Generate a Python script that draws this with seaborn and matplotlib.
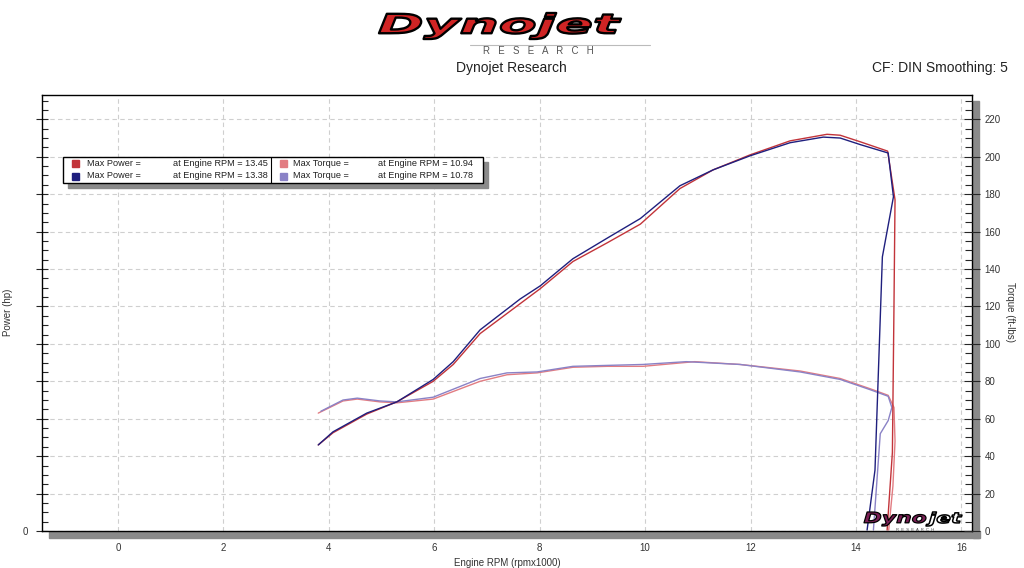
import matplotlib
matplotlib.use("Agg")
import matplotlib.pyplot as plt
from matplotlib.patches import Rectangle, PathPatch
from matplotlib.lines import Line2D
from matplotlib.textpath import TextPath
from matplotlib.font_manager import FontProperties
from matplotlib.transforms import Affine2D
from matplotlib.ticker import MultipleLocator
import seaborn as sns

# ---- data (rpm x1000) ----
# run 1 (red) power
rpm_p1 = [3.80, 4.08, 4.72, 5.29, 5.98, 6.36, 6.87, 7.63, 8.01, 8.63, 9.28, 9.91,
          10.66, 11.29, 11.99, 12.75, 13.45, 13.70, 14.08, 14.60, 14.74, 14.72, 14.69, 14.59]
hp_1 = [46, 52.5, 62.5, 69, 80, 89, 105.5, 121.5, 129.5, 144, 154, 164,
        183, 193, 201, 208.5, 212, 211.5, 208, 203, 177, 120, 42, 0.5]
# run 2 (blue) power
rpm_p2 = [3.80, 4.08, 4.72, 5.29, 5.98, 6.36, 6.87, 7.63, 8.01, 8.63, 9.28, 9.91,
          10.66, 11.29, 11.99, 12.75, 13.38, 13.70, 14.08, 14.61, 14.71, 14.50, 14.36, 14.21]
hp_2 = [46, 53, 63, 69, 81, 90.5, 107.5, 124, 131, 145.5, 156.5, 167,
        184.5, 193, 200.5, 207.5, 210.5, 210, 206.5, 202, 178.6, 146.5, 32.6, 0.5]
# run 1 torque
rpm_t1 = [3.80, 4.27, 4.54, 4.97, 5.29, 5.98, 6.87, 7.38, 7.95, 8.63, 9.28, 9.96,
          10.94, 11.80, 12.94, 13.70, 14.27, 14.61, 14.72, 14.74, 14.70, 14.62]
tq_1 = [63, 69.5, 70.5, 69, 68.5, 70.5, 80, 83.5, 84.5, 87.5, 88, 88,
        90.5, 89, 85.5, 81.5, 76, 72.5, 66, 48, 24, 0.5]
# run 2 torque
rpm_t2 = [3.85, 4.27, 4.54, 4.97, 5.29, 5.98, 6.87, 7.38, 7.95, 8.63, 9.28, 9.96,
          10.78, 11.80, 12.94, 13.70, 14.27, 14.61, 14.68, 14.61, 14.46, 14.33]
tq_2 = [64, 70, 71, 69.5, 69, 71.5, 81.5, 84.5, 85, 88, 88.5, 89,
        90.5, 89, 85, 81, 75.5, 72, 66, 59, 52, 0.5]

legend_names = ["Max Power =", "Max Power =", "Max Torque =", "Max Torque ="]
legend_rpm = [13.45, 13.38, 10.94, 10.78]
right_ticks = list(range(0, 221, 20))
x_ticks = list(range(0, 17, 2))

c_p1, c_p2, c_t1, c_t2 = "#c2343a", "#1f1f7e", "#e27c82", "#8a82c6"

sns.set_style("white")
plt.rcParams['font.family'] = ['Liberation Sans', 'DejaVu Sans']

W, H = 1024, 568
def px(x, y):
    return (x / W, 1 - y / H)

fig = plt.figure(figsize=(10.24, 5.68), dpi=100)
L, R, T, B = 42, 972, 95, 531
ax = fig.add_axes([L / W, 1 - B / H, (R - L) / W, (B - T) / H])

# gray drop shadows of the frame
fig.add_artist(Rectangle(px(49, 538), (980 - 49) / W, 7 / H, transform=fig.transFigure,
                         color="#8a8a8a", zorder=0))
fig.add_artist(Rectangle(px(973, 538), 6 / W, (538 - 101) / H, transform=fig.transFigure,
                         color="#8a8a8a", zorder=0))

for xs, ys, col in [(rpm_t1, tq_1, c_t1), (rpm_t2, tq_2, c_t2),
                    (rpm_p1, hp_1, c_p1), (rpm_p2, hp_2, c_p2)]:
    sns.lineplot(x=xs, y=ys, sort=False, estimator=None, color=col, lw=1.0, ax=ax)

ax.set_xlim(-1.44, 16.2)
ax.set_ylim(0, 233)
ax.set_xticks(x_ticks)
ax.set_xticklabels([str(t) for t in x_ticks], fontsize=7, color="#333333")
ax.xaxis.set_minor_locator(MultipleLocator(0.5))
ax.set_yticks(right_ticks)
ax.set_yticklabels(["0"] + [""] * (len(right_ticks) - 1), fontsize=7, color="#333333")
ax.yaxis.set_minor_locator(MultipleLocator(5))
ax.tick_params(axis="x", which="major", direction="inout", length=7, width=0.8, pad=5)
ax.tick_params(axis="x", which="minor", direction="in", length=5, width=0.8)
ax.tick_params(axis="y", which="major", direction="inout", length=8, width=0.8, pad=6)
ax.tick_params(axis="y", which="minor", direction="in", length=4, width=0.8)
ax.grid(True, which="major", color="#cfcfcf", ls=(0, (4, 3)), lw=0.8)
for s in ax.spines.values():
    s.set_color("black")
    s.set_linewidth(1.0)
ax.set_xlabel("Engine RPM (rpmx1000)", fontsize=7, color="#333333", labelpad=4)
ax.set_ylabel("")

ax2 = ax.twinx()
ax2.set_ylim(0, 233)
ax2.set_yticks(right_ticks)
ax2.set_yticklabels([str(t) for t in right_ticks], fontsize=7, color="#333333")
ax2.yaxis.set_minor_locator(MultipleLocator(5))
ax2.tick_params(axis="y", which="major", direction="inout", length=12, width=0.8, pad=3)
ax2.tick_params(axis="y", which="minor", direction="in", length=5, width=0.8)
for s in ax2.spines.values():
    s.set_visible(False)

fig.text(*px(8, 312), "Power (hp)", rotation=90, fontsize=7, color="#333333",
         ha="center", va="center")
fig.text(*px(1010, 312), "Torque (ft-lbs)", rotation=270, fontsize=7, color="#333333",
         ha="center", va="center")

# overlay in pixel coordinates for logos / legend
ov = fig.add_axes([0, 0, 1, 1], zorder=10)
ov.set_xlim(0, W)
ov.set_ylim(H, 0)
ov.axis("off")
ov.patch.set_alpha(0)

logo_fp = FontProperties(family="DejaVu Sans", weight="bold", style="italic")

def stretched(text, x0, x1, y0, y1, fc, ec, lw):
    p = TextPath((0, 0), text, size=1, prop=logo_fp)
    bb = p.get_extents()
    tr = (Affine2D().translate(-bb.x0, -bb.y1)
          .scale((x1 - x0) / bb.width, -(y1 - y0) / bb.height).translate(x0, y0))
    ov.add_patch(PathPatch(tr.transform_path(p), facecolor=fc, edgecolor=ec, lw=lw,
                           joinstyle="round"))

# header
stretched("Dynojet", 379, 621, 13, 39, "#d02424", "black", 1.7)
ov.add_line(Line2D([470, 650], [45, 45], color="#bbbbbb", lw=0.8))
ov.text(538, 51, "R   E   S   E   A   R   C   H", fontsize=7, color="#555555",
        ha="center", va="center")
ov.text(511, 68, "Dynojet Research", fontsize=10, color="#222222",
        ha="center", va="center")
ov.text(1008, 68, "CF: DIN Smoothing: 5", fontsize=10, color="#222222",
        ha="right", va="center")

# legend block
lx0, lx1, ly0, ly1 = 63, 483, 157, 183
ov.add_patch(Rectangle((lx0 + 5, ly0 + 5), lx1 - lx0, ly1 - ly0, color="#8a8a8a"))
ov.add_patch(Rectangle((lx0, ly0), lx1 - lx0, ly1 - ly0, facecolor="white",
                       edgecolor="black", lw=1.0))
ov.add_line(Line2D([271, 271], [ly0, ly1], color="black", lw=0.8))
sq_cols = [c_p1, c_p2, c_t1, c_t2]
for i, (name, rpm) in enumerate(zip(legend_names, legend_rpm)):
    col = i // 2
    row = i % 2
    yy = 163.5 + row * 12.5
    xs = 75 + col * 208
    ov.add_patch(Rectangle((xs - 3.5, yy - 3.5), 7, 7, color=sq_cols[i]))
    ov.text(87 + col * 206, yy, name, fontsize=6.6, color="#222222", va="center", ha="left")
    ov.text(173 + col * 205, yy, "at Engine RPM = %.2f" % rpm, fontsize=6.6,
            color="#222222", va="center", ha="left")

# small watermark logo in the corner
stretched("Dyno", 864, 926, 512, 526, "#7a1f55", "black", 0.9)
stretched("jet", 926, 962, 512, 526, "white", "black", 1.1)
ov.text(915, 530, "R  E  S  E  A  R  C  H", fontsize=3, color="#444444",
        ha="center", va="center")

fig.savefig("out.png", dpi=100)
